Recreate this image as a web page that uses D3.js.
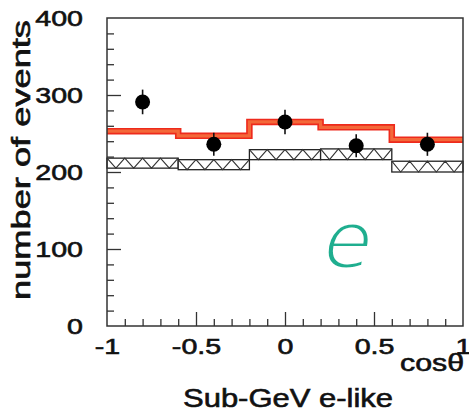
<!DOCTYPE html>
<html><head><meta charset="utf-8">
<script src="https://cdn.jsdelivr.net/npm/d3@7"></script>
<style>body{margin:0;background:#fff}svg{display:block}</style>
</head><body>
<script>
// ---- data ----
const binEdges = [-1, -0.6, -0.2, 0.2, 0.6, 1];
const redMC = [253, 247, 265, 258, 242];
const hatchTop = [218, 216, 229, 230, 214];
const hatchBottom = [205, 203, 216, 216, 200];
const dataX = [-0.8, -0.4, 0.0, 0.4, 0.8];
const dataY = [291, 236, 265, 234, 236];
const dataErr = [16, 15, 16, 15, 15];
const xTickVals = [-1, -0.5, 0, 0.5, 1];
const xTickLabels = ["-1", "-0.5", "0", "0.5", "1"];
const yTickVals = [0, 100, 200, 300, 400];
const yTickLabels = ["0", "100", "200", "300", "400"];

const W = 469, H = 418;
const svg = d3.select("body").append("svg").attr("width", W).attr("height", H);
const x = d3.scaleLinear().domain([-1, 1]).range([107, 463]);
const y = d3.scaleLinear().domain([0, 400]).range([326, 18]);
const font = "'Liberation Sans', Arial, sans-serif";

// hatched boxes
for (let i = 0; i < 5; i++) {
  const x0 = x(binEdges[i]), x1 = x(binEdges[i + 1]);
  const yt = y(hatchTop[i]), yb = y(hatchBottom[i]);
  svg.append("rect").attr("x", x0).attr("y", yt).attr("width", x1 - x0).attr("height", yb - yt)
    .attr("fill", "#fff").attr("stroke", "#222").attr("stroke-width", 1.3);
  const period = 20, n = Math.round((x1 - x0) / period);
  const p = (x1 - x0) / n;
  let d = `M${x0},${yt}`;
  for (let k = 0; k < n; k++) {
    d += `L${x0 + p * k + p / 2},${yb}L${x0 + p * (k + 1)},${yt}`;
  }
  svg.append("path").attr("d", d).attr("fill", "none").attr("stroke", "#333").attr("stroke-width", 1.1);
}

// red step line
const stepPts = [];
for (let i = 0; i < 5; i++) {
  stepPts.push([binEdges[i], redMC[i]]);
  stepPts.push([binEdges[i + 1], redMC[i]]);
}
const line = d3.line().x(d => x(d[0])).y(d => y(d[1]));
svg.append("path").attr("d", line(stepPts)).attr("fill", "none")
  .attr("stroke", "#ee2a1c").attr("stroke-width", 6.5);
svg.append("path").attr("d", line(stepPts)).attr("fill", "none")
  .attr("stroke", "#f4733e").attr("stroke-width", 3.2).attr("opacity", 0.85);

// data points
for (let i = 0; i < 5; i++) {
  svg.append("line").attr("x1", x(dataX[i])).attr("x2", x(dataX[i]))
    .attr("y1", y(dataY[i] - dataErr[i])).attr("y2", y(dataY[i] + dataErr[i]))
    .attr("stroke", "#111").attr("stroke-width", 1.6);
  svg.append("circle").attr("cx", x(dataX[i])).attr("cy", y(dataY[i])).attr("r", 7.5).attr("fill", "#000");
}

// frame
svg.append("rect").attr("x", 107).attr("y", 18).attr("width", 356).attr("height", 308)
  .attr("fill", "none").attr("stroke", "#333").attr("stroke-width", 1.5);

// y axis ticks
const yMinor = d3.range(0, 401, 20).filter(v => v % 100 !== 0);
const gyMinor = svg.append("g").attr("transform", "translate(107,0)")
  .call(d3.axisLeft(y).tickValues(yMinor).tickSize(-7).tickFormat(""));
const gy = svg.append("g").attr("transform", "translate(107,0)")
  .call(d3.axisLeft(y).tickValues(yTickVals).tickSize(-14).tickPadding(24)
    .tickFormat((d, i) => yTickLabels[i]));
// x axis ticks
const xMinor = d3.range(-9, 10).map(v => v / 10).filter(v => Math.abs(v % 0.5) > 1e-6);
const gxMinor = svg.append("g").attr("transform", "translate(0,326)")
  .call(d3.axisBottom(x).tickValues(xMinor).tickSize(-7).tickFormat(""));
const gx = svg.append("g").attr("transform", "translate(0,326)")
  .call(d3.axisBottom(x).tickValues(xTickVals).tickSize(-14).tickPadding(12)
    .tickFormat((d, i) => xTickLabels[i]));
[gyMinor, gy, gxMinor, gx].forEach(g => {
  g.select(".domain").remove();
  g.selectAll(".tick line").attr("stroke", "#333").attr("stroke-width", 1.3);
});
gx.selectAll(".tick").filter(d => Math.abs(d) === 1).select("line").remove();
gy.selectAll(".tick").filter(d => d === 0 || d === 400).select("line").remove();
[gy, gx].forEach(g => {
  g.selectAll("text").attr("font-family", font).attr("font-size", 22).attr("fill", "#111")
    .attr("stroke", "#111").attr("stroke-width", 0.6)
    .each(function () {
      const w = this.getComputedTextLength();
      d3.select(this).attr("textLength", w * 1.3).attr("lengthAdjust", "spacingAndGlyphs");
    });
});

// axis titles
const titleStyle = s => s.attr("font-family", font).attr("fill", "#111")
  .attr("stroke", "#111").attr("stroke-width", 0.6).attr("lengthAdjust", "spacingAndGlyphs");
svg.append("text").attr("x", 432).attr("y", 371).attr("text-anchor", "middle")
  .attr("font-size", 24).attr("textLength", 64).call(titleStyle).text("cosθ");
svg.append("text").attr("x", 288).attr("y", 407).attr("text-anchor", "middle")
  .attr("font-size", 26).attr("textLength", 210).call(titleStyle).text("Sub-GeV e-like");
svg.append("text").attr("transform", "translate(30,160) rotate(-90)").attr("text-anchor", "middle")
  .attr("font-size", 25).attr("textLength", 280).call(titleStyle).text("number of events");

// handwritten-like "e" (glyph thinned by a white outline pass)
const eG = svg.append("g");
eG.append("text").attr("x", 348).attr("y", 268).attr("text-anchor", "middle")
  .attr("font-family", "'DejaVu Sans'").attr("font-style", "italic")
  .attr("font-size", 80).attr("fill", "#1fae8f").text("e");
eG.append("text").attr("x", 348).attr("y", 268).attr("text-anchor", "middle")
  .attr("font-family", "'DejaVu Sans'").attr("font-style", "italic")
  .attr("font-size", 80).attr("fill", "none").attr("stroke", "#fff").attr("stroke-width", 3)
  .attr("aria-hidden", "true").text("e");
</script>
</body></html>
